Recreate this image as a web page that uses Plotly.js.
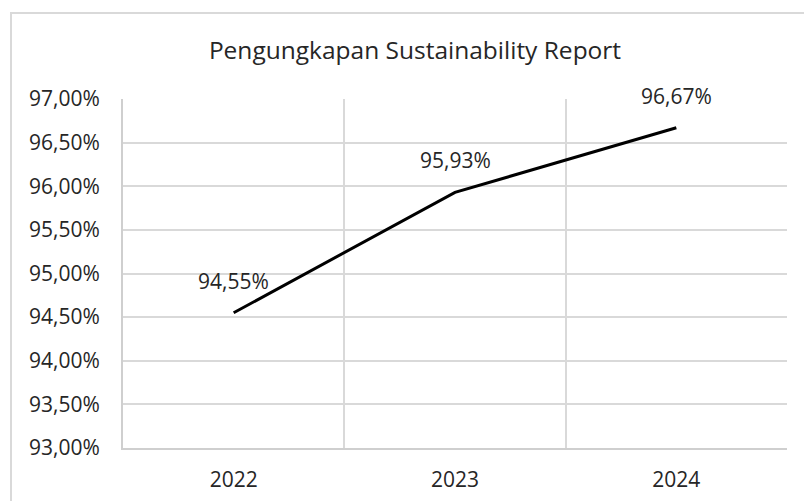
<!DOCTYPE html>
<html>
<head>
<meta charset="utf-8">
<script src="https://cdn.plot.ly/plotly-3.0.1.min.js"></script>
<style>
html,body{margin:0;padding:0;background:#fff;}
#wrap{position:relative;width:804px;height:501px;overflow:hidden;}
#frame{position:absolute;left:10px;top:12px;width:820px;height:520px;border-left:2px solid #d9d9d9;border-top:2px solid #d9d9d9;pointer-events:none;}
#chart{position:absolute;left:0;top:0;width:804px;height:501px;}
</style>
</head>
<body>
<div id="wrap">
<div id="chart"></div>
<div id="frame"></div>
</div>
<script>
const years = ["2022", "2023", "2024"];
const values = [94.55, 95.93, 96.67];
const valueLabels = ["94,55%", "95,93%", "96,67%"];
const yTickVals = [93, 93.5, 94, 94.5, 95, 95.5, 96, 96.5, 97];
const yTickText = ["93,00%", "93,50%", "94,00%", "94,50%", "95,00%", "95,50%", "96,00%", "96,50%", "97,00%"];
const chartTitle = "Pengungkapan Sustainability Report";

const FONT = "Open Sans, sans-serif";
const TXT = "#262626";

const trace = {
  x: years,
  y: values,
  type: "scatter",
  mode: "lines",
  line: {color: "#000000", width: 3},
  hoverinfo: "skip"
};

const annotations = years.map((yr, i) => ({
  x: i, y: values[i], xref: "x", yref: "y",
  text: valueLabels[i], showarrow: false, yshift: 32,
  xanchor: "center", yanchor: "middle",
  font: {family: FONT, size: 21, color: TXT}
}));

const layout = {
  width: 804, height: 501,
  margin: {l: 123, r: 17, t: 99, b: 53},
  paper_bgcolor: "#ffffff",
  plot_bgcolor: "#ffffff",
  showlegend: false,
  title: {
    text: chartTitle,
    x: 415/804, xref: "container", xanchor: "center",
    y: 1 - 50/501, yref: "container", yanchor: "middle",
    font: {family: FONT, size: 24.5, color: TXT}
  },
  xaxis: {
    type: "category",
    range: [-0.5, 2.5],
    tickson: "boundaries",
    showgrid: true, gridcolor: "#d9d9d9", gridwidth: 2,
    showline: true, linecolor: "#cfcfcf", linewidth: 2,
    ticks: "", ticklabelstandoff: 12,
    tickfont: {family: FONT, size: 21, color: TXT},
    zeroline: false, fixedrange: true
  },
  yaxis: {
    range: [93, 97],
    tickvals: yTickVals, ticktext: yTickText,
    showgrid: true, gridcolor: "#d9d9d9", gridwidth: 2,
    showline: true, linecolor: "#cfcfcf", linewidth: 2,
    ticks: "", ticklabelstandoff: 17,
    tickfont: {family: FONT, size: 21, color: TXT},
    zeroline: false, fixedrange: true
  },
  annotations: annotations
};

Plotly.newPlot("chart", [trace], layout, {staticPlot: true, displayModeBar: false});
</script>
</body>
</html>
